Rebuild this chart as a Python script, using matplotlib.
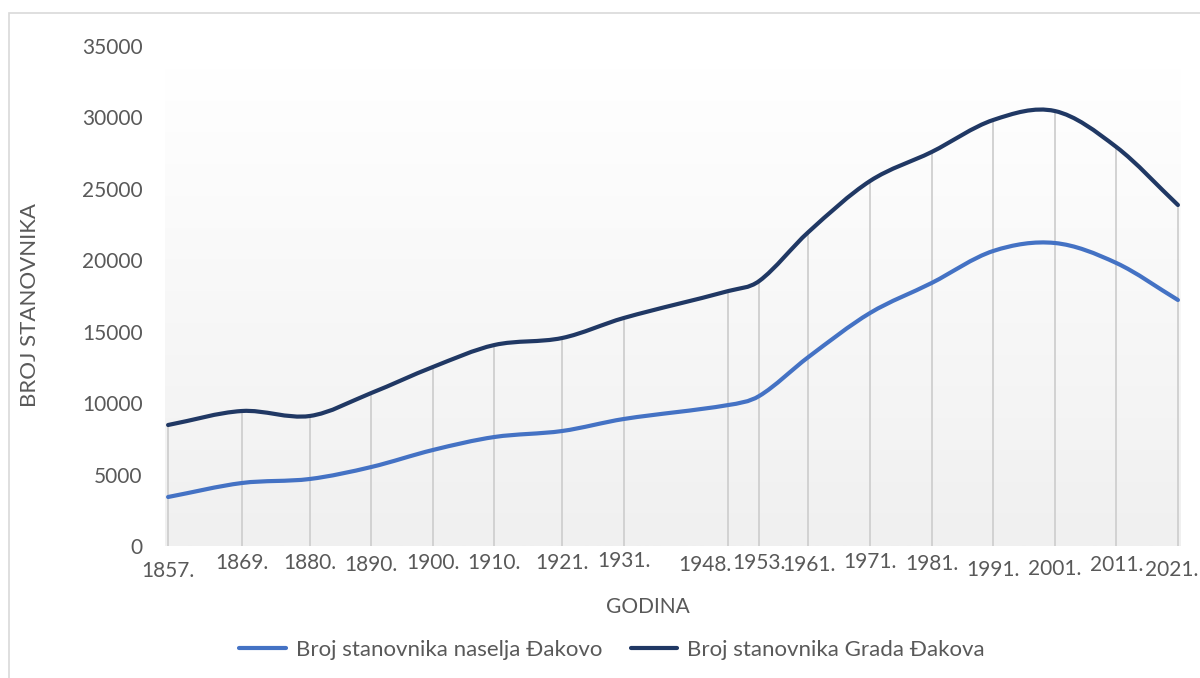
import numpy as np
import matplotlib
matplotlib.use('Agg')
import matplotlib.pyplot as plt
from matplotlib.path import Path
from matplotlib.patches import PathPatch, Rectangle
from matplotlib.lines import Line2D
from matplotlib.transforms import ScaledTranslation

# --- data --- #
years = [1857, 1869, 1880, 1890, 1900, 1910, 1921, 1931, 1948, 1953,
         1961, 1971, 1981, 1991, 2001, 2011, 2021]
year_labels = [f'{y}.' for y in years]
naselje = [3430, 4410, 4690, 5530, 6720, 7630, 8050, 8890, 9870, 10500,
           13230, 16310, 18410, 20650, 21210, 19810, 17220]
grad = [8470, 9450, 9100, 10710, 12530, 14070, 14560, 15960, 17850, 18550,
        21980, 25550, 27580, 29820, 30450, 27930, 23870]
series_names = ['Broj stanovnika naselja Đakovo', 'Broj stanovnika Grada Đakova']
series_colors = ['#4472C4', '#203864']

# label nudges (px) to mimic the staggered Excel labels
lab_dx = [0, 0, 0, 0, 0, 0, 0, 0, -24, 0, 0, 0, 0, 0, 0, 0, -6]
lab_dy = [8, 0, 0, 2, 0, 0, 0, -2, 2, 0, 2, -1, 1, 7, 6, 2, 7]

txt_col = '#595959'
fs = 15
plt.rcParams['font.family'] = ['Lato', 'DejaVu Sans']


def smooth_path(x, y):
    # smoothed line: cubic hermite (bezier form) through every point
    x = np.asarray(x, float); y = np.asarray(y, float)
    n = len(x)
    m = np.empty(n)
    m[0] = (y[1] - y[0]) / (x[1] - x[0])
    m[-1] = (y[-1] - y[-2]) / (x[-1] - x[-2])
    m[1:-1] = (y[2:] - y[:-2]) / (x[2:] - x[:-2])
    verts = [(x[0], y[0])]
    codes = [Path.MOVETO]
    for i in range(n - 1):
        h = (x[i + 1] - x[i]) / 3.
        verts += [(x[i] + h, y[i] + h * m[i]),
                  (x[i + 1] - h, y[i + 1] - h * m[i + 1]),
                  (x[i + 1], y[i + 1])]
        codes += [Path.CURVE4] * 3
    return Path(verts, codes)


fig = plt.figure(figsize=(12, 6.78), dpi=100)

# chart border
fig.patches.append(Rectangle((9 / 1200, -0.05), 1.2, 1 - 13 / 678 + 0.05,
                             transform=fig.transFigure, fill=False,
                             edgecolor='#d9d9d9', lw=1.2))

ax = fig.add_axes([165 / 1200, 132 / 678, 1016 / 1200, 500 / 678])
ax.set_xlim(1856.5, 2021.5)
ax.set_ylim(0, 35000)

# gradient background
grad_img = np.linspace(1.0, 0.0, 256).reshape(-1, 1)
ax.imshow(grad_img, extent=[1856.5, 2021.5, 0, 33400], aspect='auto',
          cmap=matplotlib.colors.LinearSegmentedColormap.from_list('g', ['#f0f0f0', '#ffffff']),
          zorder=0, origin='upper')

# drop lines
ax.vlines(years, 0, grad, color='#cfcfcf', lw=1.3, zorder=1)

# smoothed series
for vals, col in zip([naselje, grad], series_colors):
    ax.add_patch(PathPatch(smooth_path(years, vals), facecolor='none',
                           edgecolor=col, lw=3, capstyle='round', zorder=3))

for s in ax.spines.values():
    s.set_visible(False)

ax.set_yticks(np.arange(0, 35001, 5000))
ax.tick_params(axis='y', length=0, pad=16, labelsize=fs, labelcolor=txt_col)
ax.set_xticks(years, year_labels)
ax.tick_params(axis='x', length=0, pad=5, labelsize=fs, labelcolor=txt_col)
for lab, dx, dy in zip(ax.get_xticklabels(), lab_dx, lab_dy):
    lab.set_transform(lab.get_transform() +
                      ScaledTranslation(dx / 100, -dy / 100, fig.dpi_scale_trans))

fig.text(30 / 1200, 1 - 305 / 678, 'BROJ STANOVNIKA', rotation=90,
         ha='center', va='center', fontsize=fs + 1, color=txt_col)
fig.text(648 / 1200, 1 - 607 / 678, 'GODINA', ha='center', va='center',
         fontsize=fs, color=txt_col)

handles = [Line2D([], [], color=c, lw=3, solid_capstyle='round') for c in series_colors]
fig.legend(handles, series_names, loc='center', ncol=2, frameon=False,
           bbox_to_anchor=(612 / 1200, 1 - 650 / 678), fontsize=fs + 1,
           labelcolor=txt_col, handlelength=2.1, handletextpad=0.45,
           columnspacing=1.3)

fig.savefig('out.png', dpi=100)
